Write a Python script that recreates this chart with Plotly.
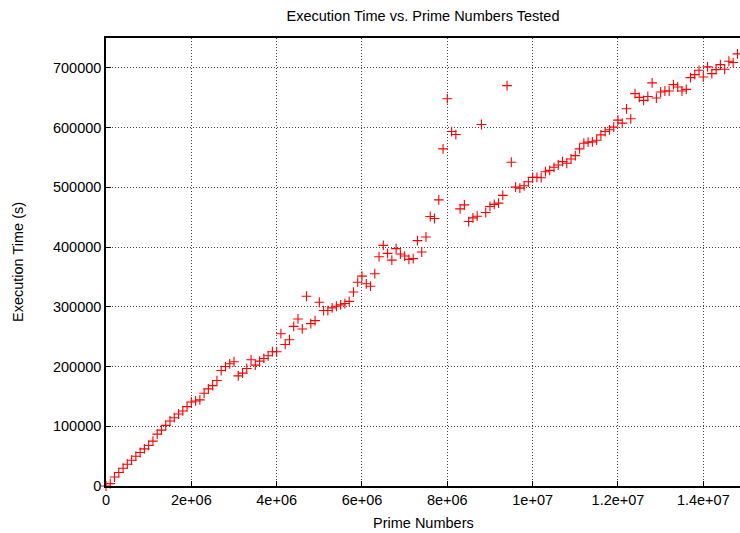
import plotly.graph_objects as go

# Prime numbers tested (x) and execution time in seconds (y)
primes_tested = [
    0, 100000, 200000, 300000, 400000, 500000, 600000, 700000, 800000, 900000,
    1000000, 1100000, 1200000, 1300000, 1400000, 1500000, 1600000, 1700000, 1800000, 1900000,
    2000000, 2100000, 2200000, 2300000, 2400000, 2500000, 2600000, 2700000, 2800000, 2900000,
    3000000, 3100000, 3200000, 3300000, 3400000, 3500000, 3600000, 3700000, 3800000, 3900000,
    4000000, 4100000, 4200000, 4300000, 4400000, 4500000, 4600000, 4700000, 4800000, 4900000,
    5000000, 5100000, 5200000, 5300000, 5400000, 5500000, 5600000, 5700000, 5800000, 5900000,
    6000000, 6100000, 6200000, 6300000, 6400000, 6500000, 6600000, 6700000, 6800000, 6900000,
    7000000, 7100000, 7200000, 7300000, 7400000, 7500000, 7600000, 7700000, 7800000, 7900000,
    8000000, 8100000, 8200000, 8300000, 8400000, 8500000, 8600000, 8700000, 8800000, 8900000,
    9000000, 9100000, 9200000, 9300000, 9400000, 9500000, 9600000, 9700000, 9800000, 9900000,
    10000000, 10100000, 10200000, 10300000, 10400000, 10500000, 10600000, 10700000, 10800000, 10900000,
    11000000, 11100000, 11200000, 11300000, 11400000, 11500000, 11600000, 11700000, 11800000, 11900000,
    12000000, 12100000, 12200000, 12300000, 12400000, 12500000, 12600000, 12700000, 12800000, 12900000,
    13000000, 13100000, 13200000, 13300000, 13400000, 13500000, 13600000, 13700000, 13800000, 13900000,
    14000000, 14100000, 14200000, 14300000, 14400000, 14500000, 14600000, 14700000, 14800000,
]

execution_time = [
    0, 4000, 15100, 22500, 29800, 36500, 43200, 49900, 56100, 62200,
    67900, 75100, 86900, 93600, 101500, 108800, 114300, 120500, 125600, 132800,
    140700, 142400, 144100, 155300, 162600, 168100, 176500, 193300, 200000, 204600,
    208000, 184400, 189000, 196700, 211300, 202400, 209100, 213500, 218000, 224800,
    224800, 255000, 237000, 244900, 267300, 279700, 262900, 317700, 271800, 276900,
    307600, 293700, 293700, 298200, 300900, 303200, 305400, 309000, 324700, 341200,
    351300, 338500, 334500, 355400, 383900, 402900, 389500, 378200, 397400, 388300,
    385000, 379400, 380600, 410800, 391700, 416900, 451200, 447800, 479000, 564300,
    648400, 593400, 588400, 464000, 470700, 442700, 448800, 451700, 605200, 457900,
    468000, 471400, 473500, 486500, 670200, 542000, 500400, 498700, 502600, 509300,
    516700, 516700, 516100, 526200, 528400, 533500, 537400, 543000, 540300, 547500,
    553000, 564300, 573900, 575600, 576100, 578900, 587800, 593400, 596300, 600800,
    612500, 607500, 631500, 614700, 656800, 650600, 645500, 652100, 674800, 649500,
    659600, 661300, 661300, 671900, 668000, 661300, 664000, 683700, 688700, 695900,
    684800, 701600, 690400, 697100, 705500, 697600, 711100, 708900, 723500,
]

x_tick_vals = [0, 2000000, 4000000, 6000000, 8000000, 10000000, 12000000, 14000000]
x_tick_text = ["0", "2e+06", "4e+06", "6e+06", "8e+06", "1e+07", "1.2e+07", "1.4e+07"]
y_tick_vals = [0, 100000, 200000, 300000, 400000, 500000, 600000, 700000]
y_tick_text = ["0", "100000", "200000", "300000", "400000", "500000", "600000", "700000"]

FONT = "Liberation Sans, Arial, sans-serif"

fig = go.Figure()
fig.add_trace(go.Scatter(
    x=primes_tested, y=execution_time, mode="markers",
    marker=dict(symbol="cross-thin", size=7, line=dict(color="#ff0000", width=1.1)),
    showlegend=False, cliponaxis=False,
))

fig.update_layout(
    width=740, height=533,
    margin=dict(l=106, r=0, t=38, b=47),
    paper_bgcolor="white", plot_bgcolor="white",
    font=dict(family=FONT, size=14.5, color="black"),
    title=dict(text="Execution Time vs. Prime Numbers Tested", x=0.5, xref="paper",
               y=1 - 16 / 533, yref="container", yanchor="middle",
               font=dict(family=FONT, size=14.5, color="black")),
    xaxis=dict(range=[0, 14860000], tickvals=x_tick_vals, ticktext=x_tick_text,
               showgrid=True, gridcolor="#444444", griddash="1px,2px", gridwidth=1,
               zeroline=False, showline=True, linecolor="black", linewidth=1.5,
               mirror=True, ticks="inside", ticklen=5, tickcolor="black",
               tickfont=dict(family=FONT, size=14.5, color="black")),
    yaxis=dict(range=[0, 750000], tickvals=y_tick_vals, ticktext=y_tick_text,
               showgrid=True, gridcolor="#444444", griddash="1px,2px", gridwidth=1,
               zeroline=False, showline=True, linecolor="black", linewidth=1.5,
               mirror=False, ticks="inside", ticklen=5, tickcolor="black",
               tickfont=dict(family=FONT, size=14.5, color="black")),
    annotations=[
        dict(text="Prime Numbers", xref="paper", yref="paper", x=0.5, y=(486 - 523) / 448,
             xanchor="center", yanchor="middle", showarrow=False,
             font=dict(family=FONT, size=14.5, color="black")),
        dict(text="Execution Time (s)", xref="paper", yref="paper", x=(18 - 106) / 634, y=0.5,
             xanchor="center", yanchor="middle", showarrow=False, textangle=-90,
             font=dict(family=FONT, size=14.5, color="black")),
    ],
)

fig.write_html("out.html")
